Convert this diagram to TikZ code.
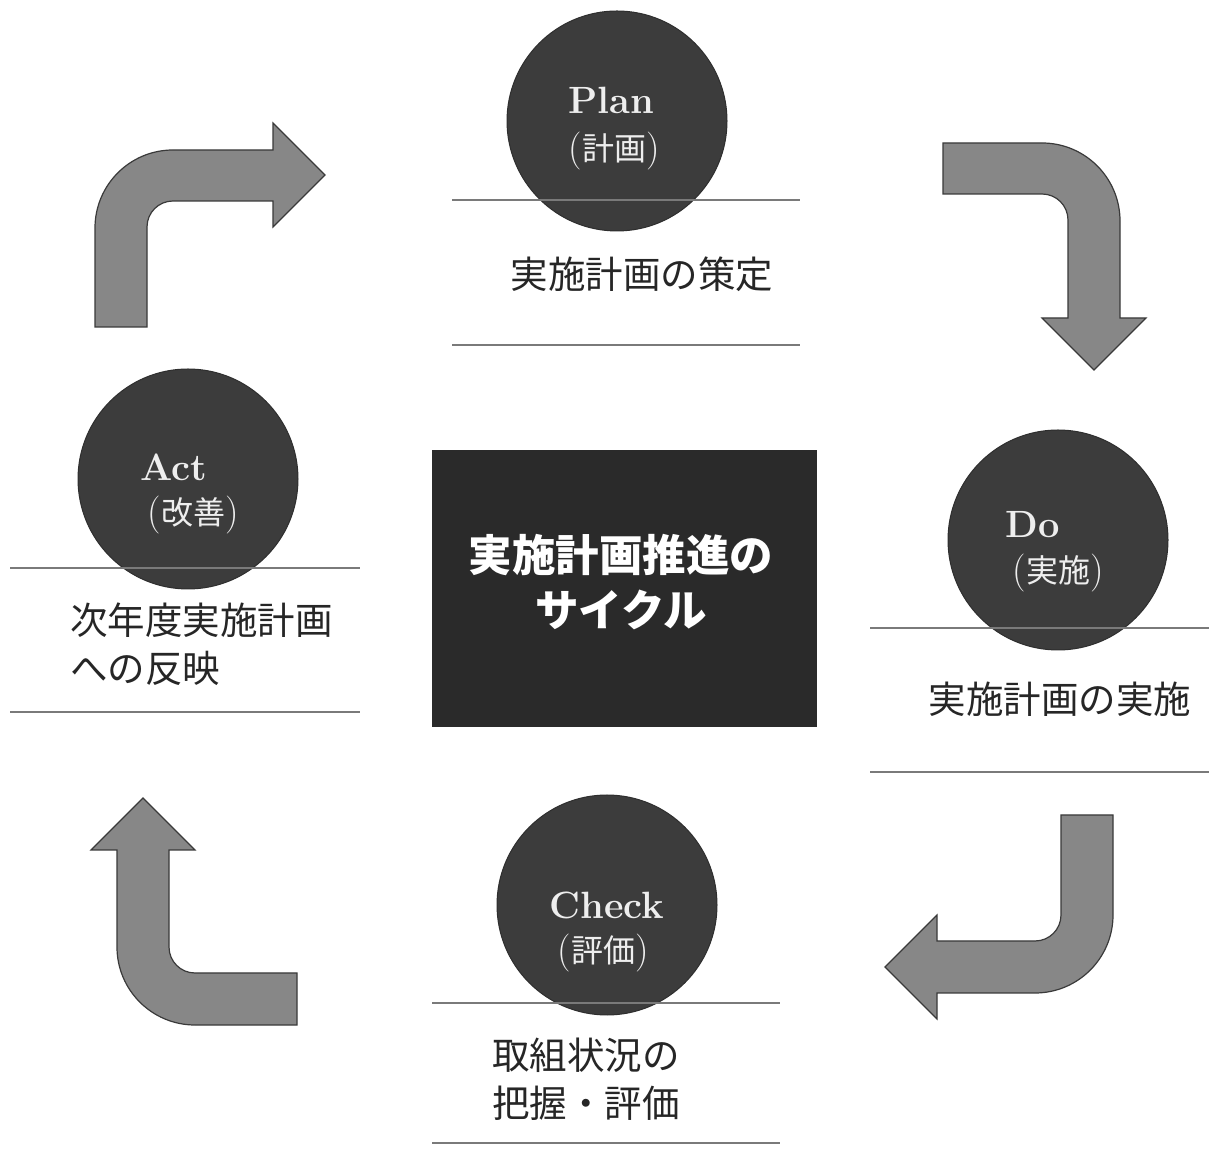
\documentclass[tikz,border=0pt]{standalone}
\usepackage{fontspec}
\newfontfamily\cjk{Noto Sans CJK JP}
\definecolor{arrowgray}{HTML}{878787}
\definecolor{arrowline}{HTML}{3A3A3A}
\definecolor{circfill}{HTML}{3C3C3C}
\definecolor{circline}{HTML}{2E2E2E}
\definecolor{boxfill}{HTML}{2A2A2A}
\definecolor{rulegray}{HTML}{7A7A7A}
\definecolor{circtext}{HTML}{EEEEEE}
\definecolor{descblack}{HTML}{262626}
\newcommand\jpsub[1]{{\cjk\mdseries\fontsize{32}{36}\selectfont #1}}
\begin{document}
\begin{tikzpicture}[x=1pt,y=1pt,
  bendarrow/.style={fill=arrowgray, draw=arrowline, line width=1.2pt, line join=miter},
  phase/.style={circle, fill=circfill, draw=circline, line width=1pt, minimum size=220pt, inner sep=0pt},
  rulefine/.style={draw=rulegray, line width=1.4pt},
  desc/.style={font=\cjk\fontsize{37.5}{48}\selectfont, text=descblack, inner sep=0pt, align=left},
  ptitle/.style={font=\bfseries\fontsize{38}{44}\selectfont, text=circtext, inner sep=0pt},
  psub/.style={font=\fontsize{38}{44}\selectfont, text=circtext, inner sep=0pt},
  centertext/.style={font=\cjk\bfseries\fontsize{43.5}{55}\selectfont, text=white, inner sep=0pt, align=center}]
\useasboundingbox (0,0) rectangle (1209,1148);
\fill[white] (0,0) rectangle (1209,1148);

% curved arrows
\draw[bendarrow] (95,821) -- (95,920) arc[start angle=180, end angle=90, radius=78pt]
  -- (273,998) -- (273,1025) -- (325,973) -- (273,921) -- (273,947) -- (173,947)
  arc[start angle=90, end angle=180, radius=26pt] -- (147,821) -- cycle;
\draw[bendarrow] (943,1005) -- (1042,1005) arc[start angle=90, end angle=0, radius=78pt]
  -- (1120,830) -- (1146,830) -- (1094,778) -- (1042,830) -- (1068,830) -- (1068,928)
  arc[start angle=0, end angle=90, radius=26pt] -- (943,954) -- cycle;
\draw[bendarrow] (1061,333) -- (1113,333) -- (1113,233) arc[start angle=0, end angle=-90, radius=78pt]
  -- (937,155) -- (937,129) -- (885,181) -- (937,233) -- (937,207) -- (1035,207)
  arc[start angle=-90, end angle=0, radius=26pt] -- cycle;
\draw[bendarrow] (297,123) -- (195,123) arc[start angle=-90, end angle=-180, radius=78pt]
  -- (117,298) -- (91,298) -- (143,350) -- (195,298) -- (169,298) -- (169,201)
  arc[start angle=180, end angle=270, radius=26pt] -- (297,175) -- cycle;

% phase circles
\node[phase] (plan) at (617,1027) {};
\node[phase] (act) at (188,669) {};
\node[phase] (do) at (1058,608) {};
\node[phase] (check) at (607,243) {};

% rules
\draw[rulefine] (452,948) -- (800,948);
\draw[rulefine] (452,803) -- (800,803);
\draw[rulefine] (10,580) -- (360,580);
\draw[rulefine] (10,436) -- (360,436);
\draw[rulefine] (870,520) -- (1209,520);
\draw[rulefine] (870,376) -- (1209,376);
\draw[rulefine] (432,145) -- (780,145);
\draw[rulefine] (432,5) -- (780,5);

% circle labels
\node[ptitle] (planA) at (611,1048) {Plan};
\node[psub] (planB) at (614,997) {(\jpsub{計画})};
\node[ptitle] (actA) at (174,681) {Act};
\node[psub] (actB) at (193,633) {(\jpsub{改善})};
\node[ptitle] (doA) at (1033,623) {Do};
\node[psub] (doB) at (1058,575) {(\jpsub{実施})};
\node[ptitle] (checkA) at (607,243) {Check};
\node[psub] (checkB) at (603,195) {(\jpsub{評価})};

% descriptions
\node[desc] (planD) at (642,874) {実施計画の策定};
\node[desc, anchor=west] (actD) at (70,504) {次年度実施計画\\への反映};
\node[desc] (doD) at (1060,449) {実施計画の実施};
\node[desc, anchor=west] (checkD) at (492,69) {取組状況の\\把握・評価};

% center box
\node[fill=boxfill, draw=boxfill, minimum width=384pt, minimum height=276pt, inner sep=0pt] (core) at (624,560) {};
\node[centertext] (coreT) at (621,566) {実施計画推進の\\サイクル};
\end{tikzpicture}
\end{document}
